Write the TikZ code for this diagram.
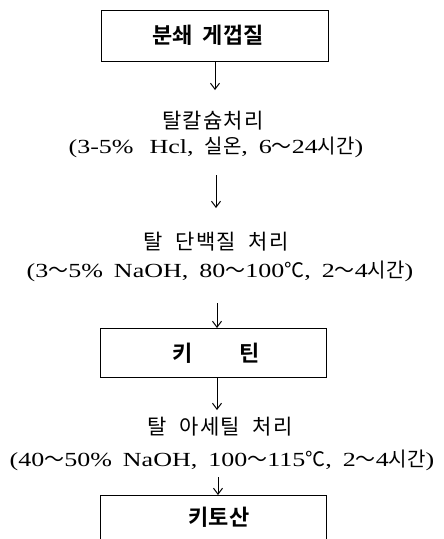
\documentclass[tikz,border=0pt]{standalone}
\usepackage{fontspec}
\setmainfont{Liberation Serif}[FakeStretch=1.3]
\newfontfamily\kr{Noto Sans CJK KR}
\newfontfamily\krl{Noto Sans CJK KR}[LetterSpace=6]
\newfontfamily\krb{Noto Sans CJK KR}[BoldFont={* Bold}]
\usetikzlibrary{arrows.meta}
\newcommand{\ti}{{\kr ～}}
\newcommand{\gap}{\hspace{0.55em}}
\newcommand{\kgap}{\hspace{0.6em}}
\tikzset{
  boxline/.style={draw=black, line width=1.3pt},
  flow/.style={draw=black, line width=1pt, -{Straight Barb[length=6pt,width=9pt,line width=1pt]}},
  lbl/.style={inner sep=0pt, font=\fontsize{20}{22}\selectfont},
  klbl/.style={inner sep=0pt, font=\fontsize{21}{23}\selectfont\krl},
  boxlbl/.style={inner sep=0pt, font=\fontsize{22}{24}\selectfont\krb\bfseries},
}
\begin{document}
\begin{tikzpicture}[x=1pt,y=-1pt]
\useasboundingbox (0,0) rectangle (444,539);
\clip (0,0) rectangle (444,539);
% boxes
\node[boxline, minimum width=227pt, minimum height=51pt, anchor=north west] (b1) at (101,10) {};
\node[boxlbl] (t1) at (208,35) {분쇄\hspace{0.45em}게껍질};
\node[boxline, minimum width=226pt, minimum height=49pt, anchor=north west] (b2) at (100,328) {};
\node[boxlbl] (t2) at (216,353) {키\hspace{2.1em}틴};
\node[boxline, minimum width=226pt, minimum height=70pt, anchor=north west] (b3) at (100,495) {};
\node[boxlbl] (t3) at (219,517) {키토산};
% labels
\node[klbl] (l1) at (213,121) {탈칼슘처리};
\node[lbl] (l2) at (216,147) {(3-5\%\hspace{0.8em}Hcl,\gap{\kr 실온},\gap 6\ti24{\kr 시간})};
\node[klbl] (l3) at (216,242) {탈\kgap 단백질\kgap 처리};
\node[lbl] (l4) at (220,271) {(3\ti5\%\gap NaOH,\gap 80\ti100{\kr ℃},\gap 2\ti4{\kr 시간})};
\node[klbl] (l5) at (220,427) {탈\kgap 아세틸\kgap 처리};
\node[lbl] (l6) at (222,460) {(40\ti50\%\gap NaOH,\gap 100\ti115{\kr ℃},\gap 2\ti4{\kr 시간})};
% arrows
\coordinate (a1s) at (215,61); \coordinate (a1e) at (215,90);
\coordinate (a2s) at (216,175); \coordinate (a2e) at (216,208);
\coordinate (a3s) at (217,303);
\coordinate (a4e) at (217,410);
\coordinate (a5s) at (218,477);
\draw[flow] (b1.south -| a1s) -- (a1e);
\draw[flow] (a2s) -- (a2e);
\draw[flow] (a3s) -- (a3s |- b2.north);
\draw[flow] (b2.south -| a4e) -- (a4e);
\draw[flow] (a5s) -- (a5s |- b3.north);
\end{tikzpicture}
\end{document}
